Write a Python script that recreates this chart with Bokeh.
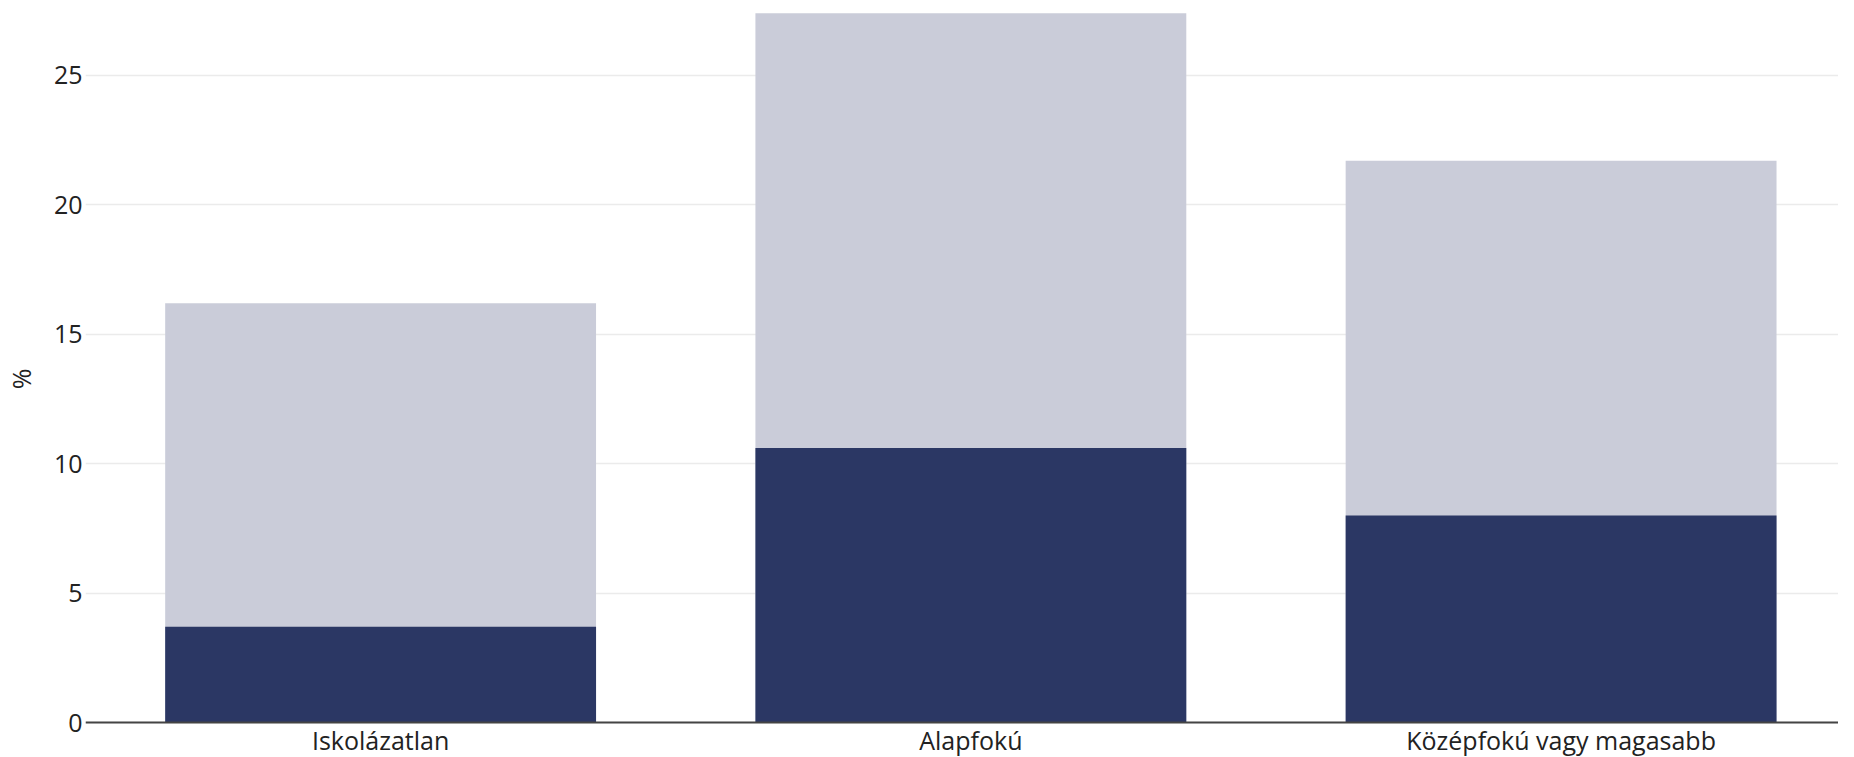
from bokeh.plotting import figure
from bokeh.models import Range1d, FixedTicker, ColumnDataSource, Span
from bokeh.core.properties import value
from bokeh.embed import file_html
from bokeh.resources import INLINE

categories = ["Iskolázatlan", "Alapfokú", "Középfokú vagy magasabb"]
total_values = [16.2, 27.4, 21.7]
dark_values = [3.7, 10.6, 8.0]
y_ticks = [0, 5, 10, 15, 20, 25]

FONT = "Open Sans"

# category slots: each category centred in a unit-wide slot
x_pos = [i + 0.5 for i in range(len(categories))]

src = ColumnDataSource(dict(x=x_pos, cat=categories, total=total_values, dark=dark_values,
                            base=[0] * len(categories)))

p = figure(
    x_range=Range1d(0, 2.97),
    y_range=Range1d(-1.35, 27.89),
    width=1838, height=757,
    output_backend="svg", toolbar_location=None,
    min_border_left=0, min_border_right=0, min_border_top=0, min_border_bottom=0,
)
p.outline_line_color = None
p.background_fill_color = "white"
p.border_fill_color = "white"

p.vbar(x="x", top="total", bottom=0, width=0.73, source=src,
       fill_color="#CACCD9", line_color=None)
p.vbar(x="x", top="dark", bottom=0, width=0.73, source=src,
       fill_color="#2B3764", line_color=None)

# x axis line at zero and category labels below it
p.add_layout(Span(location=0, dimension="width", line_color="#444444", line_width=2))
p.text(x="x", y="base", text="cat", source=src, text_align="center",
       text_baseline="alphabetic", y_offset=17,
       text_font=value(FONT), text_font_size="25px", text_color="#222222")

p.xaxis.visible = False
p.xgrid.grid_line_color = None
p.ygrid.grid_line_color = "#EBEBEB"
p.ygrid.grid_line_width = 1.5
p.yaxis.ticker = FixedTicker(ticks=y_ticks)

p.yaxis.axis_line_color = None
p.yaxis.major_tick_line_color = None
p.yaxis.minor_tick_line_color = None
p.yaxis.major_tick_out = 0
p.yaxis.major_tick_in = 0
p.yaxis.minor_tick_out = 0
p.yaxis.major_label_standoff = 3
p.yaxis.major_label_text_font = FONT
p.yaxis.major_label_text_font_size = "25px"
p.yaxis.major_label_text_color = "#222222"
p.yaxis.axis_label = "%"
p.yaxis.axis_label_text_font = FONT
p.yaxis.axis_label_text_font_size = "25px"
p.yaxis.axis_label_text_font_style = "normal"
p.yaxis.axis_label_text_color = "#222222"
p.yaxis.axis_label_standoff = 13

open("out.html", "w").write(file_html(p, INLINE))
